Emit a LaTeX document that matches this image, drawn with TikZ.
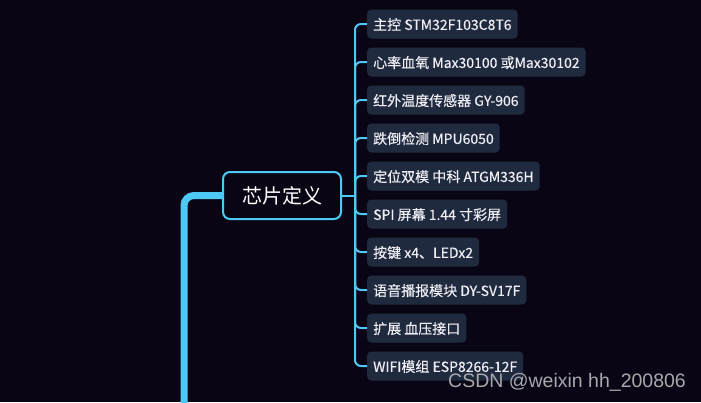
\documentclass[tikz,border=0pt]{standalone}
\usepackage{fontspec}
\setmainfont{Noto Sans CJK SC}
\newfontfamily\leaffont[FakeBold=0.35]{Noto Sans CJK SC}
\newfontfamily\wmfont{Liberation Sans}
\definecolor{bgc}{HTML}{0A0515}
\definecolor{boxc}{HTML}{1F2A3F}
\definecolor{cyanc}{HTML}{4EC9F5}
\definecolor{txtc}{HTML}{EEEEF4}
\definecolor{wmc}{HTML}{A8A8AC}
\tikzset{
  leaf/.style={fill=boxc, rounded corners=4pt, anchor=west, inner xsep=6pt, minimum height=29pt, text=txtc, font=\leaffont\fontsize{14}{14}\selectfont, text depth=0pt},
  mainbox/.style={draw=cyanc, line width=2pt, fill=bgc, rounded corners=7pt, minimum width=118pt, minimum height=47pt, text=white, font=\fontsize{20}{20}\selectfont},
  branch/.style={draw=cyanc, line width=2pt, rounded corners=6pt},
  trunk/.style={draw=cyanc, line width=7pt, rounded corners=10pt}
}
\begin{document}
\begin{tikzpicture}[x=1pt,y=-1pt]
\useasboundingbox (0,0) rectangle (701,402);
\fill[bgc] (0,0) rectangle (701,402);
\clip (0,0) rectangle (701,402);
\node[mainbox] (main) at (282,195.5) {芯片定义};
\coordinate (tb) at (184,420);
\coordinate (hub) at (355,195.5);
\draw[trunk] ([xshift=1pt]main.west) -| (tb);
\node[leaf] (c1) at (367,24) {主控 STM32F103C8T6};
\node[leaf] (c2) at (367,62) {心率血氧 Max30100 或Max30102};
\node[leaf] (c3) at (367,100) {红外温度传感器 GY-906};
\node[leaf] (c4) at (367,138) {跌倒检测 MPU6050};
\node[leaf] (c5) at (367,176) {定位双模 中科 ATGM336H};
\node[leaf] (c6) at (367,214) {SPI 屏幕 1.44 寸彩屏};
\node[leaf] (c7) at (367,252) {按键 x4、LEDx2};
\node[leaf] (c8) at (367,290) {语音播报模块 DY-SV17F};
\node[leaf] (c9) at (367,328) {扩展 血压接口};
\node[leaf] (c10) at (367,366) {WIFI模组 ESP8266-12F};
\draw[branch, rounded corners=0pt] (main.east) -- (hub);
\foreach \i in {1,...,10} {
  \draw[branch] (hub) |- (c\i.west);
}
\node[anchor=west, text=wmc, font=\wmfont\fontsize{19.5}{19.5}\selectfont, inner sep=0pt] (wm) at (448,382) {CSDN @weixin hh\_200806};
\end{tikzpicture}
\end{document}
